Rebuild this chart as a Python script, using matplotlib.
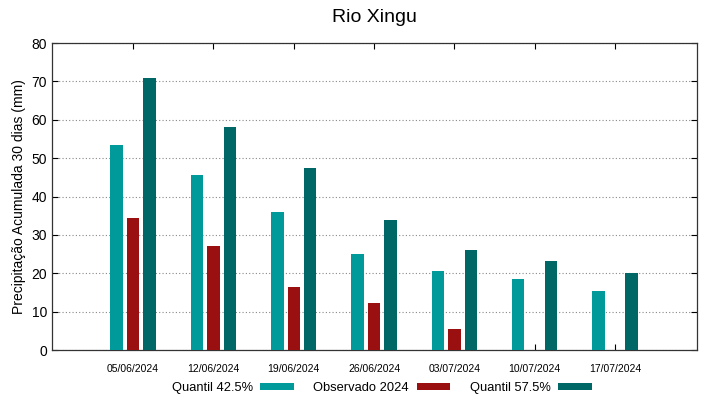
import matplotlib
matplotlib.use("Agg")
import matplotlib.pyplot as plt
import numpy as np
from matplotlib.patches import Patch

plt.rcParams["font.family"] = ["Liberation Sans", "DejaVu Sans"]

# Dados
datas = ["05/06/2024", "12/06/2024", "19/06/2024", "26/06/2024",
         "03/07/2024", "10/07/2024", "17/07/2024"]
quantil_425 = [53.5, 45.6, 36.0, 25.0, 20.7, 18.5, 15.3]
observado_2024 = [34.3, 27.0, 16.3, 12.2, 5.5, np.nan, np.nan]
quantil_575 = [70.8, 58.2, 47.4, 34.0, 26.0, 23.3, 20.1]

cor_q425 = "#009a9a"
cor_obs = "#9a1010"
cor_q575 = "#006767"

fig = plt.figure(figsize=(7.19, 3.99), dpi=100)
ax = fig.add_axes([0.0723, 0.1228, 0.8971, 0.7694])

x = np.arange(len(datas))
largura = 0.155
desloc = 0.205

ax.bar(x - desloc, quantil_425, largura, color=cor_q425, zorder=3)
ax.bar(x, observado_2024, largura, color=cor_obs, zorder=3)
ax.bar(x + desloc, quantil_575, largura, color=cor_q575, zorder=3)

ax.set_xlim(-1.01, 7.02)
ax.set_ylim(0, 80)
ax.set_yticks(np.arange(0, 81, 10))
ax.set_xticks(x)
ax.set_xticklabels(datas, fontsize=7.5)
ax.tick_params(axis="y", labelsize=10, direction="in", right=True, length=4)
ax.tick_params(axis="x", direction="in", top=True, length=4, pad=10)

# grade pontilhada
ax.grid(axis="y", color="#888888", linestyle=(0, (1, 2)), linewidth=0.8, zorder=0)
for s in ax.spines.values():
    s.set_linewidth(0.9)
    s.set_color("#333333")

ax.set_ylabel("Precipitação Acumulada 30 dias (mm)", fontsize=10)
ax.set_title("Rio Xingu", fontsize=14, pad=15)

# Legenda
legenda = [
    Patch(facecolor=cor_q425, label="Quantil 42.5%"),
    Patch(facecolor=cor_obs, label="Observado 2024"),
    Patch(facecolor=cor_q575, label="Quantil 57.5%"),
]
fig.legend(handles=legenda, loc="center", bbox_to_anchor=(0.531, 0.028),
           ncol=3, frameon=False, markerfirst=False, fontsize=9.3,
           handlelength=2.6, handleheight=0.45, handletextpad=0.6,
           columnspacing=1.5)

plt.savefig("out.png", dpi=100)
